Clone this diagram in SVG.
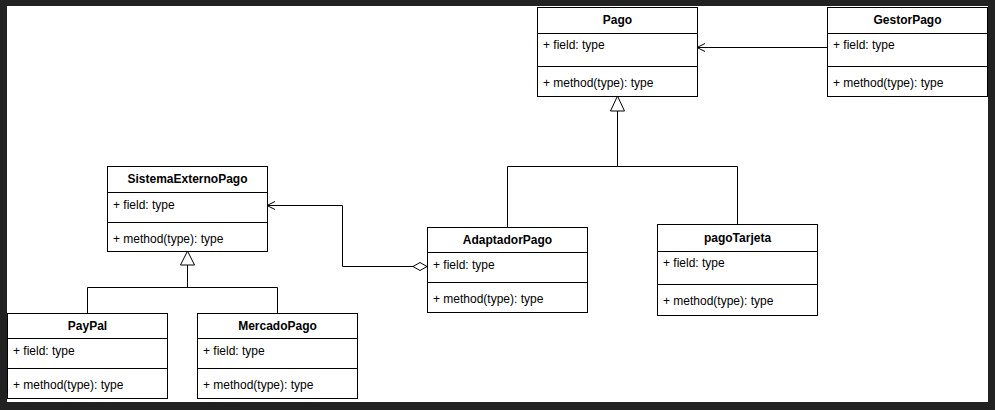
<svg xmlns="http://www.w3.org/2000/svg" width="995" height="410" viewBox="0 0 995 410">
<style>
.box{fill:#fff;stroke:#000;stroke-width:1}
.ln{fill:none;stroke:#000;stroke-width:1}
text{font-family:"Liberation Sans",Arial,sans-serif;font-size:12px;fill:#000}
.hd{font-weight:bold;text-anchor:middle}
</style>
<rect x="0" y="0" width="995" height="410" fill="#222222"/>
<rect x="7" y="6" width="981" height="396" fill="#ffffff"/>
<g id="connectors">
<path class="ln" d="M827,47.5 H697"/>
<polyline class="ln" points="705,43.5 697,47.5 705,51.5"/>
<path class="ln" d="M507.5,227 V166.5 H737.5 V224 M617.5,166.5 V111"/>
<polygon class="box" points="617.5,96 610.5,111 624.5,111"/>
<path class="ln" d="M87.5,313 V287.5 H277.5 V313 M187.5,287.5 V265"/>
<polygon class="box" points="187.5,251 180.5,265 194.5,265"/>
<path class="ln" d="M413,266.5 H342.5 V205.5 H267"/>
<polyline class="ln" points="275,201.5 267,205.5 275,209.5"/>
<polygon class="box" points="427,266.5 420,262.5 413,266.5 420,270.5"/>
</g>
<g id="Pago">
<rect class="box" x="537.5" y="7.5" width="160" height="89"/>
<path class="ln" d="M537.5,33.5 H697.5 M537.5,66.5 H697.5"/>
<text class="hd" x="617.5" y="24">Pago</text>
<text x="543" y="49">+ field: type</text>
<text x="543" y="87">+ method(type): type</text>
</g>
<g id="GestorPago">
<rect class="box" x="827.5" y="7.5" width="160" height="89"/>
<path class="ln" d="M827.5,33.5 H987.5 M827.5,66.5 H987.5"/>
<text class="hd" x="907.5" y="24">GestorPago</text>
<text x="833" y="49">+ field: type</text>
<text x="833" y="87">+ method(type): type</text>
</g>
<g id="SistemaExternoPago">
<rect class="box" x="107.5" y="166.5" width="160" height="85"/>
<path class="ln" d="M107.5,192.5 H267.5 M107.5,222.5 H267.5"/>
<text class="hd" x="187.5" y="183">SistemaExternoPago</text>
<text x="113" y="209">+ field: type</text>
<text x="113" y="243">+ method(type): type</text>
</g>
<g id="PayPal">
<rect class="box" x="7.5" y="313.5" width="160" height="85"/>
<path class="ln" d="M7.5,338.5 H167.5 M7.5,368.5 H167.5"/>
<text class="hd" x="87.5" y="330">PayPal</text>
<text x="13" y="355">+ field: type</text>
<text x="13" y="389">+ method(type): type</text>
</g>
<g id="MercadoPago">
<rect class="box" x="197.5" y="313.5" width="160" height="85"/>
<path class="ln" d="M197.5,338.5 H357.5 M197.5,368.5 H357.5"/>
<text class="hd" x="277.5" y="330">MercadoPago</text>
<text x="203" y="355">+ field: type</text>
<text x="203" y="389">+ method(type): type</text>
</g>
<g id="AdaptadorPago">
<rect class="box" x="427.5" y="227.5" width="160" height="85"/>
<path class="ln" d="M427.5,252.5 H587.5 M427.5,282.5 H587.5"/>
<text class="hd" x="507.5" y="244">AdaptadorPago</text>
<text x="433" y="269">+ field: type</text>
<text x="433" y="303">+ method(type): type</text>
</g>
<g id="pagoTarjeta">
<rect class="box" x="657.5" y="224.5" width="160" height="91"/>
<path class="ln" d="M657.5,251.5 H817.5 M657.5,284.5 H817.5"/>
<text class="hd" x="737.5" y="242">pagoTarjeta</text>
<text x="663" y="267">+ field: type</text>
<text x="663" y="305">+ method(type): type</text>
</g>
</svg>
